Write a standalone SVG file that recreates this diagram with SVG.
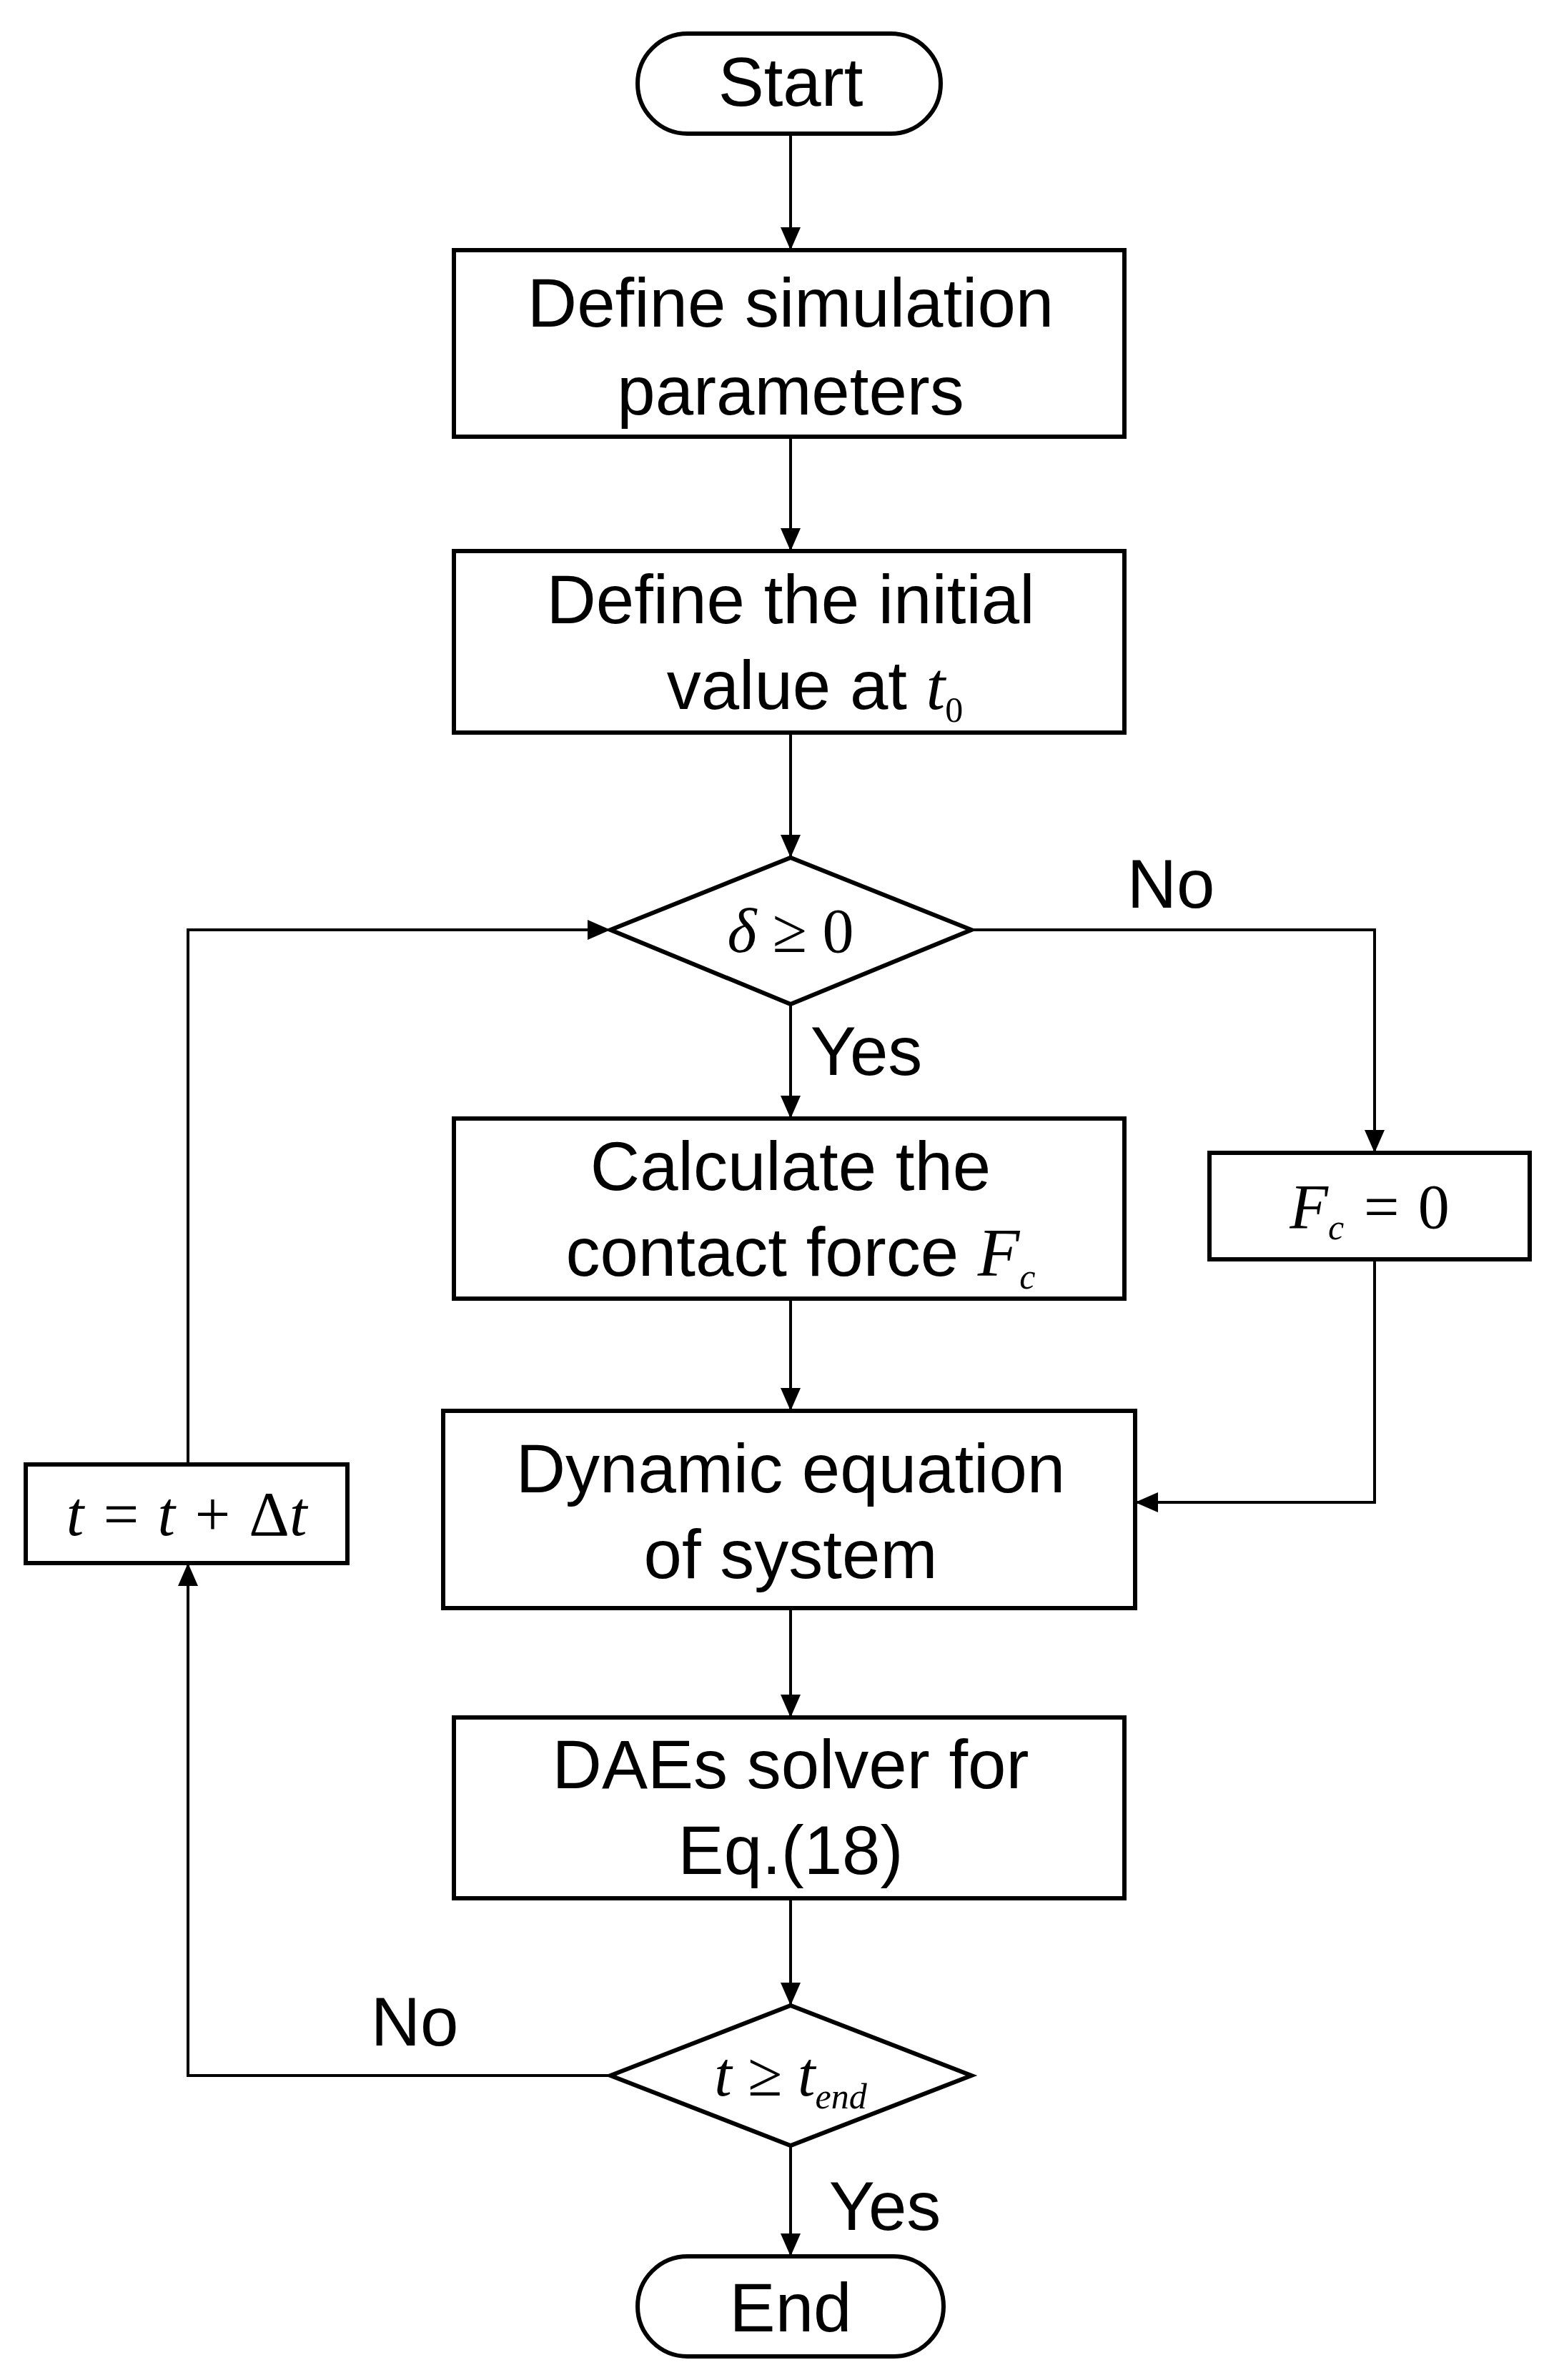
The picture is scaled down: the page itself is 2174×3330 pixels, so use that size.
<svg xmlns="http://www.w3.org/2000/svg" width="2174" height="3330" viewBox="0 0 2174 3330">
<style>
.s{fill:#fff;stroke:#000;stroke-width:6}
.t{font-family:"Liberation Sans",Arial,sans-serif;font-size:96px;text-anchor:middle;fill:#000}
.m{font-family:"Liberation Serif","Times New Roman",serif;font-style:italic;font-size:88px;text-anchor:middle;fill:#000}
.u{font-style:normal}
.l{fill:none;stroke:#000;stroke-width:4}
</style>
<defs>
<marker id="b" markerWidth="32" markerHeight="28" refX="32" refY="14" orient="auto" markerUnits="userSpaceOnUse"><path d="M0,0L32,14L0,28z" fill="#000"/></marker></defs>
<rect width="2174" height="3330" fill="#fff"/>
<g id="connectors">
<path class="l" d="M1106,187V350" marker-end="url(#b)"/>
<path class="l" d="M1106,611V771" marker-end="url(#b)"/>
<path class="l" d="M1106,1025V1200" marker-end="url(#b)"/>
<path class="l" d="M1106,1405V1565" marker-end="url(#b)"/>
<path class="l" d="M1106,1817V1974" marker-end="url(#b)"/>
<path class="l" d="M1106,2250V2403" marker-end="url(#b)"/>
<path class="l" d="M1106,2656V2806" marker-end="url(#b)"/>
<path class="l" d="M1106,3002V3157" marker-end="url(#b)"/>
<path class="l" d="M1359,1301H1923V1613" marker-end="url(#b)"/>
<path class="l" d="M1923,1762V2102H1588" marker-end="url(#b)"/>
<path class="l" d="M854,2904H263V2187" marker-end="url(#b)"/>
<path class="l" d="M263,2049V1301H854" marker-end="url(#b)"/>
<text class="t" x="1638" y="1270">No</text>
<text class="t" x="1212" y="1504">Yes</text>
<text class="t" x="580" y="2862">No</text>
<text class="t" x="1238" y="3120">Yes</text>
</g>
<g id="start"><rect class="s" x="892" y="47" width="424" height="140" rx="70"/><text class="t" x="1106" y="148">Start</text></g>
<g id="params"><rect class="s" x="635" y="350" width="938" height="261"/><text class="t" x="1106" y="457">Define simulation</text><text class="t" x="1106" y="580">parameters</text></g>
<g id="init"><rect class="s" x="635" y="771" width="938" height="254"/><text class="t" x="1106" y="872">Define the initial</text><text class="t" x="1140" y="992">value at <tspan font-family="Liberation Serif,serif" font-style="italic">t</tspan><tspan font-family="Liberation Serif,serif" font-size="50" dy="18">0</tspan></text></g>
<g id="d1"><path class="s" d="M854,1301L1106,1200L1359,1301L1106,1405Z"/><text class="m" x="1106" y="1332">δ ≥ <tspan class="u">0</tspan></text></g>
<g id="calc"><rect class="s" x="635" y="1565" width="938" height="252"/><text class="t" x="1106" y="1665">Calculate the</text><text class="t" x="1120" y="1785">contact force <tspan font-family="Liberation Serif,serif" font-style="italic">F</tspan><tspan font-family="Liberation Serif,serif" font-style="italic" font-size="50" dy="18">c</tspan></text></g>
<g id="fc0"><rect class="s" x="1692" y="1613" width="448" height="149"/><text class="m" x="1916" y="1718">F<tspan font-size="50" dy="16">c</tspan><tspan dy="-16"> = </tspan><tspan class="u">0</tspan></text></g>
<g id="dyn"><rect class="s" x="620" y="1974" width="968" height="276"/><text class="t" x="1106" y="2088">Dynamic equation</text><text class="t" x="1106" y="2208">of system</text></g>
<g id="dae"><rect class="s" x="635" y="2403" width="938" height="253"/><text class="t" x="1106" y="2502">DAEs solver for</text><text class="t" x="1106" y="2622">Eq.(18)</text></g>
<g id="d2"><path class="s" d="M854,2904L1106,2806L1359,2904L1106,3002Z"/><text class="m" x="1106" y="2932">t ≥ t<tspan font-size="50" dy="18">end</tspan></text></g>
<g id="inc"><rect class="s" x="36" y="2049" width="450" height="138"/><text class="m" x="261" y="2148">t = t + <tspan class="u">Δ</tspan>t</text></g>
<g id="end"><rect class="s" x="892" y="3157" width="428" height="140" rx="70"/><text class="t" x="1106" y="3262">End</text></g>
</svg>
